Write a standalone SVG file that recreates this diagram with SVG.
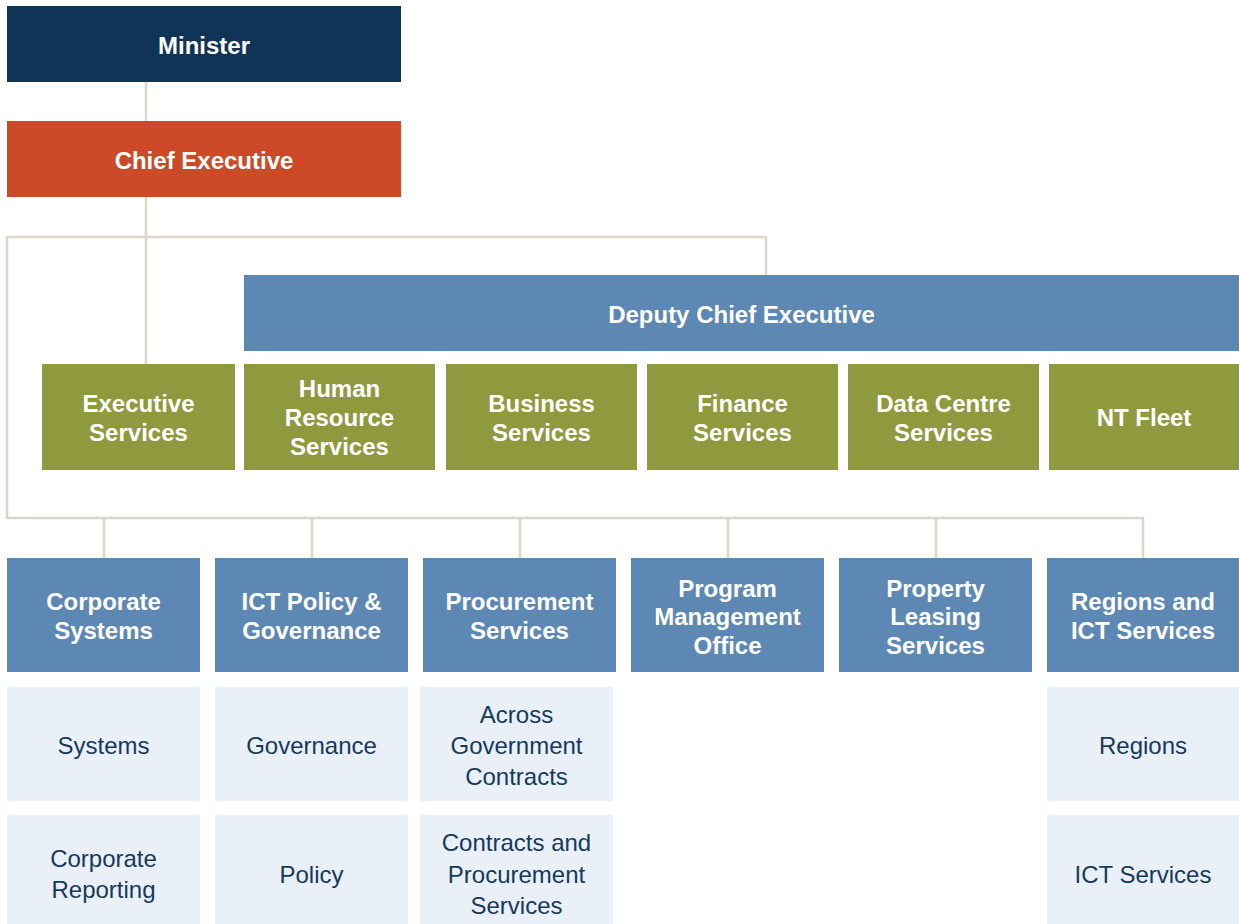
<svg xmlns="http://www.w3.org/2000/svg" width="1239" height="924" viewBox="0 0 1239 924">
  <style>
    .conn { fill: none; stroke: #ddd4ca; stroke-width: 2.5; }
    .navy { fill: #0f3455; }
    .orange { fill: #cc4a27; }
    .blue { fill: #5d88b3; }
    .green { fill: #8f993d; }
    .light { fill: #e9f0f7; }
    .t { font-family: "Liberation Sans", Arial, sans-serif; font-size: 24px; text-anchor: middle; }
    .tb { font-weight: bold; fill: #ffffff; }
    .tl { fill: #163a5c; }
  </style>

  <!-- connectors -->
  <g id="connectors">
    <line class="conn" x1="146" y1="82" x2="146" y2="121"/>
    <line class="conn" x1="146" y1="197" x2="146" y2="364"/>
    <polyline class="conn" points="766,275 766,237 7,237 7,518 1143,518 1143,558"/>
    <line class="conn" x1="104" y1="518" x2="104" y2="558"/>
    <line class="conn" x1="312" y1="518" x2="312" y2="558"/>
    <line class="conn" x1="520" y1="518" x2="520" y2="558"/>
    <line class="conn" x1="728" y1="518" x2="728" y2="558"/>
    <line class="conn" x1="936" y1="518" x2="936" y2="558"/>
  </g>

  <!-- top of the hierarchy -->
  <g id="minister">
    <rect class="navy" x="7" y="6" width="394" height="76"/>
    <text class="t tb" x="204" y="53.5">Minister</text>
  </g>
  <g id="chief-executive">
    <rect class="orange" x="7" y="121" width="394" height="76"/>
    <text class="t tb" x="204" y="168.5">Chief Executive</text>
  </g>
  <g id="deputy-chief-executive">
    <rect class="blue" x="244" y="275" width="995" height="76"/>
    <text class="t tb" x="741.5" y="322.5">Deputy Chief Executive</text>
  </g>

  <!-- green row -->
  <g id="executive-services">
    <rect class="green" x="42" y="364" width="193" height="106"/>
    <text class="t tb" x="138.5" y="412">Executive</text>
    <text class="t tb" x="138.5" y="440.5">Services</text>
  </g>
  <g id="human-resource-services">
    <rect class="green" x="244" y="364" width="191" height="106"/>
    <text class="t tb" x="339.5" y="397">Human</text>
    <text class="t tb" x="339.5" y="426">Resource</text>
    <text class="t tb" x="339.5" y="455">Services</text>
  </g>
  <g id="business-services">
    <rect class="green" x="446" y="364" width="191" height="106"/>
    <text class="t tb" x="541.5" y="412">Business</text>
    <text class="t tb" x="541.5" y="440.5">Services</text>
  </g>
  <g id="finance-services">
    <rect class="green" x="647" y="364" width="191" height="106"/>
    <text class="t tb" x="742.5" y="412">Finance</text>
    <text class="t tb" x="742.5" y="440.5">Services</text>
  </g>
  <g id="data-centre-services">
    <rect class="green" x="848" y="364" width="191" height="106"/>
    <text class="t tb" x="943.5" y="412">Data Centre</text>
    <text class="t tb" x="943.5" y="440.5">Services</text>
  </g>
  <g id="nt-fleet">
    <rect class="green" x="1049" y="364" width="190" height="106"/>
    <text class="t tb" x="1144" y="426">NT Fleet</text>
  </g>

  <!-- blue row -->
  <g id="corporate-systems">
    <rect class="blue" x="7" y="558" width="193" height="114"/>
    <text class="t tb" x="103.5" y="610">Corporate</text>
    <text class="t tb" x="103.5" y="639">Systems</text>
  </g>
  <g id="ict-policy-governance">
    <rect class="blue" x="215" y="558" width="193" height="114"/>
    <text class="t tb" x="311.5" y="610">ICT Policy &amp;</text>
    <text class="t tb" x="311.5" y="639">Governance</text>
  </g>
  <g id="procurement-services">
    <rect class="blue" x="423" y="558" width="193" height="114"/>
    <text class="t tb" x="519.5" y="610">Procurement</text>
    <text class="t tb" x="519.5" y="639">Services</text>
  </g>
  <g id="program-management-office">
    <rect class="blue" x="631" y="558" width="193" height="114"/>
    <text class="t tb" x="727.5" y="596.5">Program</text>
    <text class="t tb" x="727.5" y="625">Management</text>
    <text class="t tb" x="727.5" y="653.5">Office</text>
  </g>
  <g id="property-leasing-services">
    <rect class="blue" x="839" y="558" width="193" height="114"/>
    <text class="t tb" x="935.5" y="596.5">Property</text>
    <text class="t tb" x="935.5" y="625">Leasing</text>
    <text class="t tb" x="935.5" y="653.5">Services</text>
  </g>
  <g id="regions-ict-services">
    <rect class="blue" x="1047" y="558" width="192" height="114"/>
    <text class="t tb" x="1143" y="610">Regions and</text>
    <text class="t tb" x="1143" y="639">ICT Services</text>
  </g>

  <!-- sub-units -->
  <g id="systems">
    <rect class="light" x="7" y="687" width="193" height="114"/>
    <text class="t tl" x="103.5" y="753.5">Systems</text>
  </g>
  <g id="corporate-reporting">
    <rect class="light" x="7" y="815" width="193" height="118"/>
    <text class="t tl" x="103.5" y="867">Corporate</text>
    <text class="t tl" x="103.5" y="898">Reporting</text>
  </g>
  <g id="governance">
    <rect class="light" x="215" y="687" width="193" height="114"/>
    <text class="t tl" x="311.5" y="753.5">Governance</text>
  </g>
  <g id="policy">
    <rect class="light" x="215" y="815" width="193" height="118"/>
    <text class="t tl" x="311.5" y="882.5">Policy</text>
  </g>
  <g id="across-government-contracts">
    <rect class="light" x="420" y="687" width="193" height="114"/>
    <text class="t tl" x="516.5" y="722.5">Across</text>
    <text class="t tl" x="516.5" y="753.5">Government</text>
    <text class="t tl" x="516.5" y="784.5">Contracts</text>
  </g>
  <g id="contracts-procurement-services">
    <rect class="light" x="420" y="815" width="193" height="118"/>
    <text class="t tl" x="516.5" y="850.5">Contracts and</text>
    <text class="t tl" x="516.5" y="882.5">Procurement</text>
    <text class="t tl" x="516.5" y="913.5">Services</text>
  </g>
  <g id="regions">
    <rect class="light" x="1047" y="687" width="192" height="114"/>
    <text class="t tl" x="1143" y="753.5">Regions</text>
  </g>
  <g id="ict-services">
    <rect class="light" x="1047" y="815" width="192" height="118"/>
    <text class="t tl" x="1143" y="882.5">ICT Services</text>
  </g>
</svg>
